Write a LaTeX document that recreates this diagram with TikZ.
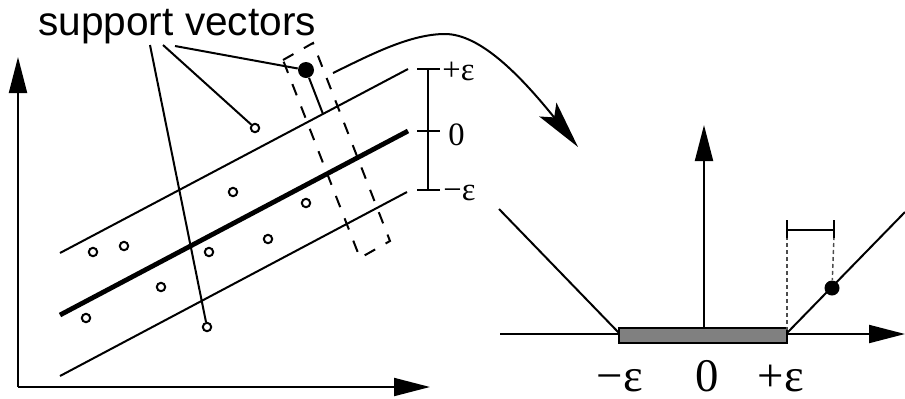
\documentclass[tikz,border=0pt]{standalone}
\usepackage{fontspec}
\setmainfont{Liberation Serif}
\newfontfamily\sanslabel{Liberation Sans}
\usetikzlibrary{arrows.meta}
\tikzset{
  sample/.style={circle, draw, line width=1pt, minimum size=4.2pt, inner sep=0pt},
  svdot/.style={circle, fill, minimum size=#1, inner sep=0pt},
  svdot/.default=8pt,
  thinline/.style={line width=1pt},
  hyperplane/.style={line width=2.4pt},
  axis/.style={line width=1pt, -{Triangle[length=18pt,width=9pt]}},
  tube/.style={line width=1pt, dash pattern=on 6pt off 6pt},
  slack/.style={line width=0.7pt, gray!60!black, dash pattern=on 2pt off 1.5pt},
  mapping/.style={line width=1pt, -{Stealth[length=24pt,width=11pt,inset=5pt]}},
  ticklabel/.style={anchor=base west, inner sep=0pt, font=\fontsize{16.3}{18}\selectfont},
  axlabel/.style={anchor=base, inner sep=0pt, font=\fontsize{23.4}{26}\selectfont}
}

\begin{document}
\begin{tikzpicture}[x=0.5pt, y=-0.5pt]
  \useasboundingbox (0,0) rectangle (905,398);

  % left panel: input space
  \coordinate (ytip) at (18,57);
  \coordinate (orig) at (18,387);
  \coordinate (xtip) at (430,387);
  \draw[axis] (orig) -- (ytip);
  \draw[axis] (orig) -- (xtip);

  \draw[thinline] (60,253) coordinate (up0) -- (408,69) coordinate (up1);
  \draw[hyperplane] (60,315) coordinate (mid0) -- (408,131) coordinate (mid1);
  \draw[thinline] (60,376) coordinate (lo0) -- (407,192) coordinate (lo1);

  \foreach \n/\x/\y in {1/255/128, 2/233/192, 3/306/203, 4/93/252, 5/124/246,
                        6/209/252, 7/268/239, 8/161/287, 9/86/318, 10/207/327}
    \node[sample] (s\n) at (\x,\y) {};
  \node[svdot] (sv) at (306,70) {};

  % tube around the outlier
  \draw[tube] (283,60) coordinate (tl) -- (313,43) coordinate (tr)
    -- (390,241) coordinate (br) -- (360,258) coordinate (bl) -- cycle;
  \coordinate (svfoot) at (323,114);
  \draw[thinline] (sv) -- (svfoot);

  % epsilon scale
  \draw[thinline] (428,69) coordinate (eptop) -- (428,190) coordinate (epbot);
  \foreach \y in {69,131,190}
    \draw[thinline] (417,\y) -- (440,\y);
  \node[ticklabel] (lplus) at (442,80) {+ε};
  \node[ticklabel] (lzero) at (448,145) {0};
  \node[ticklabel] (lminus) at (443,200) {−ε};

  \node[anchor=base west, inner sep=0pt, font=\sanslabel\fontsize{20.3}{24}\selectfont]
    (svlabel) at (38,35) {support vectors};
  \coordinate (p1) at (150,45);
  \coordinate (p2) at (163,45);
  \coordinate (p3) at (175,46);
  \draw[thinline] (p1) -- (s10);
  \draw[thinline] (p2) -- (s1);
  \draw[thinline] (p3) -- (sv);

  % mapping arrow
  \coordinate (mapstart) at (333,73);
  \coordinate (mappeak) at (445,34);
  \coordinate (mapend) at (578,147);
  \draw[mapping] (mapstart) .. controls (370,55) and (410,34) .. (mappeak)
    .. controls (480,34) and (520,75) .. (mapend);

  % right panel: epsilon-insensitive loss
  \coordinate (hstart) at (500,334);
  \coordinate (htip) at (905,334);
  \coordinate (vbase) at (704,328);
  \coordinate (vtip) at (704,125);
  \draw[axis] (hstart) -- (htip);
  \draw[axis] (vbase) -- (vtip);
  \draw[thinline, fill=gray] (619,328) rectangle (787,343);
  \draw[thinline] (499,209) -- (619,333);
  \draw[thinline] (787,333) -- (905,212);
  \node[svdot=7.5pt] (loss) at (832,288) {};
  \draw[slack] (787,236) -- (787,330);
  \draw[slack] (834,236) -- (loss);
  \draw[thinline] (787,220) -- (787,238);
  \draw[thinline] (834,220) -- (834,238);
  \draw[thinline] (787,230) -- (834,230);

  \node[axlabel] (bminus) at (620,391) {−ε};
  \node[axlabel] (bzero) at (707,391) {0};
  \node[axlabel] (bplus) at (781,391) {+ε};
\end{tikzpicture}
\end{document}
